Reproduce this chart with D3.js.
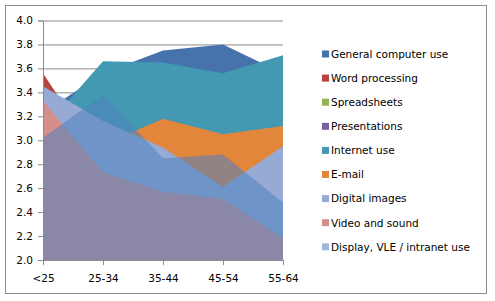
<!DOCTYPE html>
<html>
<head>
<meta charset="utf-8">
<script src="https://cdn.jsdelivr.net/npm/d3@7"></script>
<style>
  body { margin: 0; background: #fff; }
  text { font-family: "DejaVu Sans", sans-serif; }
</style>
</head>
<body>
<div id="chart-area"></div>
<script>
var categories = ["<25", "25-34", "35-44", "45-54", "55-64"];

var seriesNames = ["General computer use", "Word processing", "Spreadsheets",
	"Presentations", "Internet use", "E-mail", "Digital images",
	"Video and sound", "Display, VLE / intranet use"];

var generalUse    = [3.23, 3.56, 3.75, 3.80, 3.56];
var wordProc      = [3.56, 2.80, 2.75, 2.62, 2.45];
var spreadsheets  = [3.30, 3.00, 2.90, 2.80, 2.60];
var presentations = [3.10, 2.85, 2.70, 2.60, 2.40];
var internetUse   = [3.09, 3.66, 3.65, 3.56, 3.71];
var email         = [2.90, 2.96, 3.18, 3.05, 3.12];
var digitalImages = [3.45, 3.16, 2.94, 2.61, 2.95];
var videoSound    = [3.33, 2.73, 2.57, 2.51, 2.18];
var displayVle    = [3.02, 3.38, 2.85, 2.88, 2.48];

var yTicks = [2.0, 2.2, 2.4, 2.6, 2.8, 3.0, 3.2, 3.4, 3.6, 3.8, 4.0];

var colors = ["#4673AB", "#B8433F", "#93B254", "#7A5E9E", "#4399B1",
	"#E2863C", "#97AAD5", "#D48F8D", "#4F81BD"];
var opacities = [1, 1, 1, 1, 1, 1, 1, 1, 0.55];

var allValues = [generalUse, wordProc, spreadsheets, presentations, internetUse,
	email, digitalImages, videoSound, displayVle];

var series = seriesNames.map(function(name, i) {
	return {name: name, values: allValues[i], color: colors[i], opacity: opacities[i]};
});

var svg = d3.select("#chart-area")
	.append("svg")
		.attr("width", 495)
		.attr("height", 301);

// outer chart border
svg.append("rect")
	.attr("x", 5.5).attr("y", 5.5)
	.attr("width", 481).attr("height", 288)
	.attr("fill", "#fff")
	.attr("stroke", "#8c8c8c");

var margin = {left: 43, top: 20.5};
var width = 240, height = 239.5;

var g = svg.append("g")
	.attr("transform", "translate(" + margin.left + "," + margin.top + ")");

var x = d3.scalePoint()
	.domain(categories)
	.range([0, width])
	.padding(0);

var y = d3.scaleLinear()
	.domain([2, 4])
	.range([height, 0]);

// gridlines
g.append("g")
	.attr("class", "grid")
	.call(d3.axisLeft(y).tickValues(yTicks).tickSize(-width).tickFormat(""))
	.call(function(s) {
		s.select(".domain").remove();
		s.selectAll("line").attr("stroke", "#8a8a8a");
	});

var area = d3.area()
	.x(function(d, i) { return x(categories[i]); })
	.y0(y(2))
	.y1(function(d) { return y(d); });

g.selectAll(".area")
	.data(series)
	.enter()
	.append("path")
		.attr("class", "area")
		.attr("d", function(d) { return area(d.values); })
		.attr("fill", function(d) { return d.color; })
		.attr("fill-opacity", function(d) { return d.opacity; });

var yAxis = g.append("g")
	.call(d3.axisLeft(y).tickValues(yTicks).tickSize(5).tickPadding(5)
		.tickFormat(d3.format(".1f")));

var xAxis = g.append("g")
	.attr("transform", "translate(0," + height + ")")
	.call(d3.axisBottom(x).tickSize(5).tickPadding(10));

[yAxis, xAxis].forEach(function(ax) {
	ax.select(".domain").attr("stroke", "#8a8a8a");
	ax.selectAll(".tick line").attr("stroke", "#8a8a8a");
	ax.selectAll("text").attr("fill", "#000").style("font-size", "10.5px");
});

// legend
var legend = svg.append("g")
	.attr("transform", "translate(322,54)");

var rows = legend.selectAll(".row")
	.data(series)
	.enter()
	.append("g")
		.attr("class", "row")
		.attr("transform", function(d, i) { return "translate(0," + (i * 24.1) + ")"; });

rows.append("rect")
	.attr("x", 0).attr("y", -3.5)
	.attr("width", 7).attr("height", 7)
	.attr("fill", function(d) { return d.color; })
	.attr("fill-opacity", function(d) { return d.opacity; });

rows.append("text")
	.attr("x", 9)
	.attr("y", 3.8)
	.style("font-size", "10.5px")
	.attr("fill", "#000")
	.text(function(d) { return d.name; });
</script>
</body>
</html>
